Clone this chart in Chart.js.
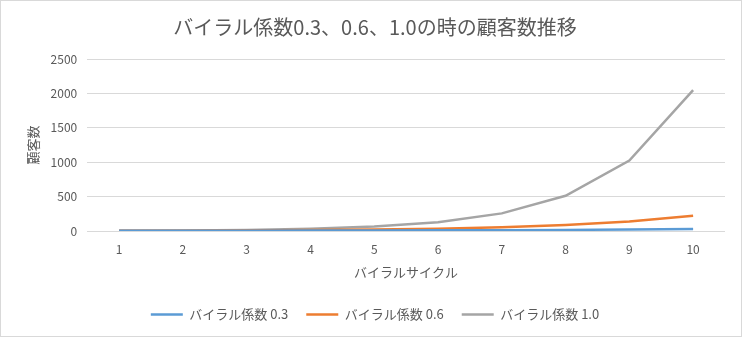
<!DOCTYPE html>
<html>
<head>
<meta charset="utf-8">
<script src="https://cdn.jsdelivr.net/npm/chart.js@4"></script>
<style>
  html, body { margin: 0; padding: 0; background: #fff; }
  #wrap { position: relative; width: 740px; height: 335px; border: 1px solid #d9d9d9; }
</style>
</head>
<body>
<div id="wrap"><canvas id="chart"></canvas></div>
<script>
'use strict';

const cycles = ['1', '2', '3', '4', '5', '6', '7', '8', '9', '10'];
const viral03 = [2.6, 3.4, 4.4, 5.7, 7.4, 9.7, 12.5, 16.3, 21.2, 27.6];
const viral06 = [3.2, 5.1, 8.2, 13.1, 21, 33.6, 53.7, 85.9, 137.4, 220];
const viral10 = [4, 8, 16, 32, 64, 128, 256, 512, 1024, 2048];
const yTicks = [0, 500, 1000, 1500, 2000, 2500];

const font = '"Noto Sans CJK JP", "Noto Sans", sans-serif';
const textColor = '#595959';

function renderChart() {
  const ctx = document.getElementById('chart');

  new Chart(ctx, {
    type: 'line',
    data: {
      labels: cycles,
      datasets: [{
        label: 'バイラル係数 0.3',
        data: viral03,
        borderColor: '#5B9BD5',
        backgroundColor: '#5B9BD5',
        borderWidth: 2.5
      }, {
        label: 'バイラル係数 0.6',
        data: viral06,
        borderColor: '#ED7D31',
        backgroundColor: '#ED7D31',
        borderWidth: 2.5
      }, {
        label: 'バイラル係数 1.0',
        data: viral10,
        borderColor: '#A5A5A5',
        backgroundColor: '#A5A5A5',
        borderWidth: 2.5
      }]
    },
    options: {
      responsive: true,
      maintainAspectRatio: false,
      animation: false,
      elements: {
        line: { tension: 0 },
        point: { radius: 0, pointStyle: 'line' }
      },
      layout: { padding: { left: 24, right: 16, top: 6, bottom: 5 } },
      plugins: {
        title: {
          display: true,
          text: 'バイラル係数0.3、0.6、1.0の時の顧客数推移',
          color: textColor,
          font: { family: font, size: 20, weight: 'normal' },
          padding: { top: 8, bottom: 20 }
        },
        legend: {
          position: 'bottom',
          labels: {
            usePointStyle: true,
            pointStyle: 'line',
            pointStyleWidth: 32,
            color: textColor,
            font: { family: font, size: 13 },
            padding: 18
          }
        },
        tooltip: { enabled: false }
      },
      scales: {
        x: {
          offset: true,
          grid: { display: false },
          border: { display: false },
          ticks: { color: textColor, font: { family: font, size: 12 }, padding: 3 },
          title: {
            display: true,
            text: 'バイラルサイクル',
            color: textColor,
            font: { family: font, size: 13 },
            padding: { top: 5, bottom: 10 }
          }
        },
        y: {
          min: 0,
          max: 2500,
          afterBuildTicks: axis => { axis.ticks = yTicks.map(v => ({ value: v })); },
          grid: { color: '#d9d9d9', drawTicks: false },
          border: { display: false },
          ticks: {
            color: textColor,
            font: { family: font, size: 12 },
            padding: 10,
            callback: v => String(v)
          },
          title: {
            display: true,
            text: '顧客数',
            color: textColor,
            font: { family: font, size: 13 },
            padding: { top: 0, bottom: 0 }
          }
        }
      }
    }
  });
}

renderChart();
</script>
</body>
</html>
